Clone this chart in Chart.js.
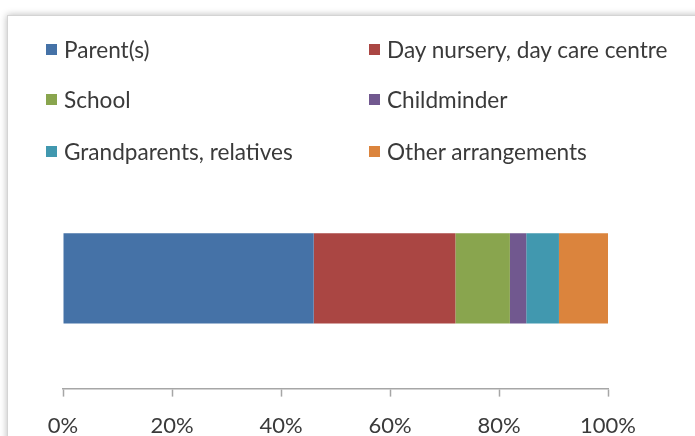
<!DOCTYPE html>
<html>
<head>
<meta charset="utf-8">
<script src="https://cdn.jsdelivr.net/npm/chart.js@4/dist/chart.umd.min.js"></script>
<style>
  html, body { margin: 0; padding: 0; background: #fff; overflow: hidden; }
  body { width: 695px; height: 436px; position: relative; font-family: Lato, "Open Sans", sans-serif; }
  .stage { position: absolute; left: 0; top: 0; width: 695px; height: 436px; overflow: hidden; filter: blur(0.45px); }
  .frame {
    position: absolute; left: 7px; top: 15px; width: 800px; height: 600px;
    border: 1px solid #d4d4d4; background: #fff;
    box-shadow: 0 0 7px rgba(0,0,0,0.28);
  }
  .wrap { position: absolute; left: 0; top: 0; width: 695px; height: 470px; }
  .legend { position: absolute; left: 0; top: 0; width: 695px; height: 180px; }
  .legend .item {
    position: absolute; display: flex; align-items: center;
    font-size: 22.6px; color: #3a3a3a; white-space: nowrap; height: 26px;
  }
  .legend .box { width: 11px; height: 11px; margin-right: 7px; }
</style>
</head>
<body>
<div class="stage">
<div class="frame"></div>
<div class="legend" id="legend"></div>
<div class="wrap"><canvas id="c"></canvas></div>
</div>
<script>
// Childcare arrangements, share of the total (%)
const categories = [''];
const seriesLabels = ['Parent(s)', 'Day nursery, day care centre', 'School', 'Childminder', 'Grandparents, relatives', 'Other arrangements'];
const seriesValues = [46, 26, 10, 3, 6, 9];
const seriesColors = ['#4572A7', '#AA4643', '#89A54E', '#71588F', '#4198AF', '#DB843D'];
const tickValues = [0, 20, 40, 60, 80, 100];

const datasets = seriesLabels.map((name, i) => ({
  label: name,
  data: [seriesValues[i]],
  backgroundColor: seriesColors[i],
  borderWidth: 0,
  categoryPercentage: 0.455,
  barPercentage: 0.9
}));

const chart = new Chart(document.getElementById('c'), {
  type: 'bar',
  data: { labels: categories, datasets },
  options: {
    indexAxis: 'y',
    responsive: true,
    maintainAspectRatio: false,
    animation: false,
    layout: { padding: { left: 63, right: 87, top: 168, bottom: 15 } },
    plugins: { legend: { display: false }, tooltip: { enabled: false } },
    scales: {
      y: { stacked: true, display: false },
      x: {
        stacked: true, min: 0, max: 100,
        afterBuildTicks: (scale) => { scale.ticks = tickValues.map(v => ({ value: v })); },
        ticks: {
          callback: (v) => v + '%',
          color: '#3a3a3a',
          font: { family: 'Lato, "Open Sans", sans-serif', size: 22 },
          padding: 16,
          maxRotation: 0
        },
        grid: { drawOnChartArea: false, drawTicks: true, tickLength: 8, tickColor: '#a6a6a6', tickWidth: 1.5 },
        border: { color: '#a6a6a6', width: 1.5 }
      }
    }
  }
});

// Two-column legend built from the chart's datasets
const legendPos = [[46, 36], [369, 36], [46, 86], [369, 86], [46, 138], [369, 138]];
const legendEl = document.getElementById('legend');
chart.data.datasets.forEach((ds, i) => {
  const item = document.createElement('div');
  item.className = 'item';
  item.style.left = legendPos[i][0] + 'px';
  item.style.top = legendPos[i][1] + 'px';
  const box = document.createElement('span');
  box.className = 'box';
  box.style.background = ds.backgroundColor;
  const txt = document.createElement('span');
  txt.textContent = ds.label;
  item.appendChild(box);
  item.appendChild(txt);
  legendEl.appendChild(item);
});
</script>
</body>
</html>
